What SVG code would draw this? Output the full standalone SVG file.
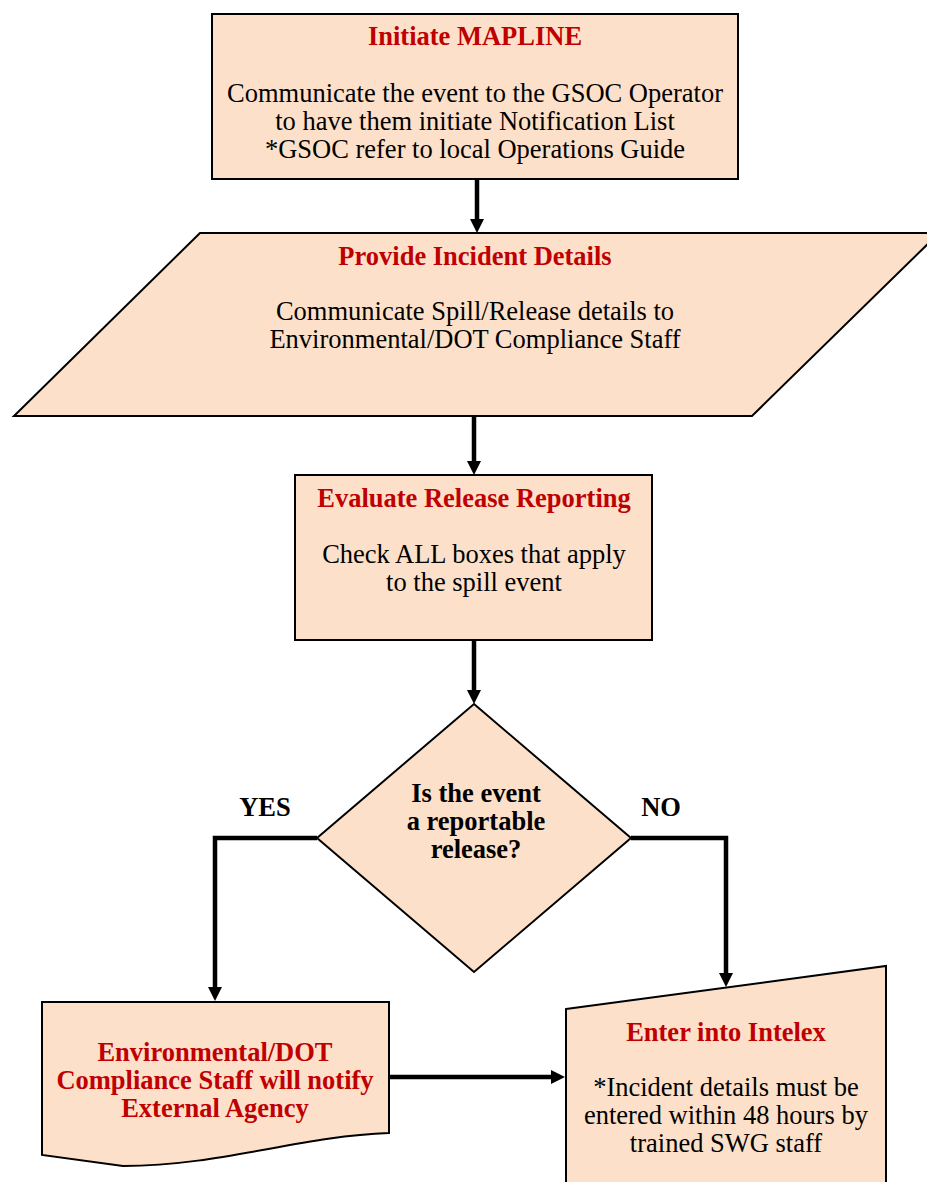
<svg xmlns="http://www.w3.org/2000/svg" width="927" height="1182" viewBox="0 0 927 1182">
<style>
.shape{fill:#FDE0C9;stroke:#000;stroke-width:2}
.t{font-family:"Liberation Serif","Times New Roman",serif;font-size:26.5px;text-anchor:middle;fill:#000}
.h{font-weight:bold;fill:#C00000}
.b{font-weight:bold}
.conn{fill:none;stroke:#000;stroke-width:4.5}
</style>
<defs>
<marker id="arr" markerUnits="userSpaceOnUse" markerWidth="14" markerHeight="14" refX="2" refY="7" orient="auto">
<path d="M0,0 L14,7 L0,14 z" fill="#000"/>
</marker>
</defs>
<rect width="927" height="1182" fill="#fff"/>
<g id="connectors">
<path class="conn" d="M477,179 V221" marker-end="url(#arr)"/>
<path class="conn" d="M474,416 V463" marker-end="url(#arr)"/>
<path class="conn" d="M474,640 V692" marker-end="url(#arr)"/>
<path class="conn" d="M317,838 H215 V989" marker-end="url(#arr)"/>
<path class="conn" d="M631,838 H726 V975" marker-end="url(#arr)"/>
<path class="conn" d="M389,1077 H553" marker-end="url(#arr)"/>
<text class="t b" x="265" y="816">YES</text>
<text class="t b" x="661" y="816">NO</text>
</g>
<g id="initiate">
<rect class="shape" x="212" y="14" width="526" height="165"/>
<text class="t h" x="475" y="45">Initiate MAPLINE</text>
<text class="t" x="475" y="102">Communicate the event to the GSOC Operator</text>
<text class="t" x="475" y="130">to have them initiate Notification List</text>
<text class="t" x="475" y="158">*GSOC refer to local Operations Guide</text>
</g>
<g id="provide">
<polygon class="shape" points="200,233 939,233 752,416 14,416"/>
<text class="t h" x="475" y="265">Provide Incident Details</text>
<text class="t" x="475" y="320">Communicate Spill/Release details to</text>
<text class="t" x="475" y="348">Environmental/DOT Compliance Staff</text>
</g>
<g id="evaluate">
<rect class="shape" x="295" y="475" width="357" height="165"/>
<text class="t h" x="474" y="507">Evaluate Release Reporting</text>
<text class="t" x="474" y="563">Check ALL boxes that apply</text>
<text class="t" x="474" y="591">to the spill event</text>
</g>
<g id="decision">
<polygon class="shape" points="474,704 631,838 474,972 317,838"/>
<text class="t b" x="476" y="802">Is the event</text>
<text class="t b" x="476" y="830">a reportable</text>
<text class="t b" x="476" y="858">release?</text>
</g>
<g id="notify">
<path class="shape" d="M42,1002 H389 V1133 C300,1136 220,1166 123,1166 L42,1155 Z"/>
<text class="t h" x="215" y="1061">Environmental/DOT</text>
<text class="t h" x="215" y="1089">Compliance Staff will notify</text>
<text class="t h" x="215" y="1117">External Agency</text>
</g>
<g id="intelex">
<polygon class="shape" points="566,1009 886,966 886,1195 566,1195"/>
<text class="t h" x="726" y="1041">Enter into Intelex</text>
<text class="t" x="726" y="1096">*Incident details must be</text>
<text class="t" x="726" y="1124">entered within 48 hours by</text>
<text class="t" x="726" y="1152">trained SWG staff</text>
</g>
</svg>
